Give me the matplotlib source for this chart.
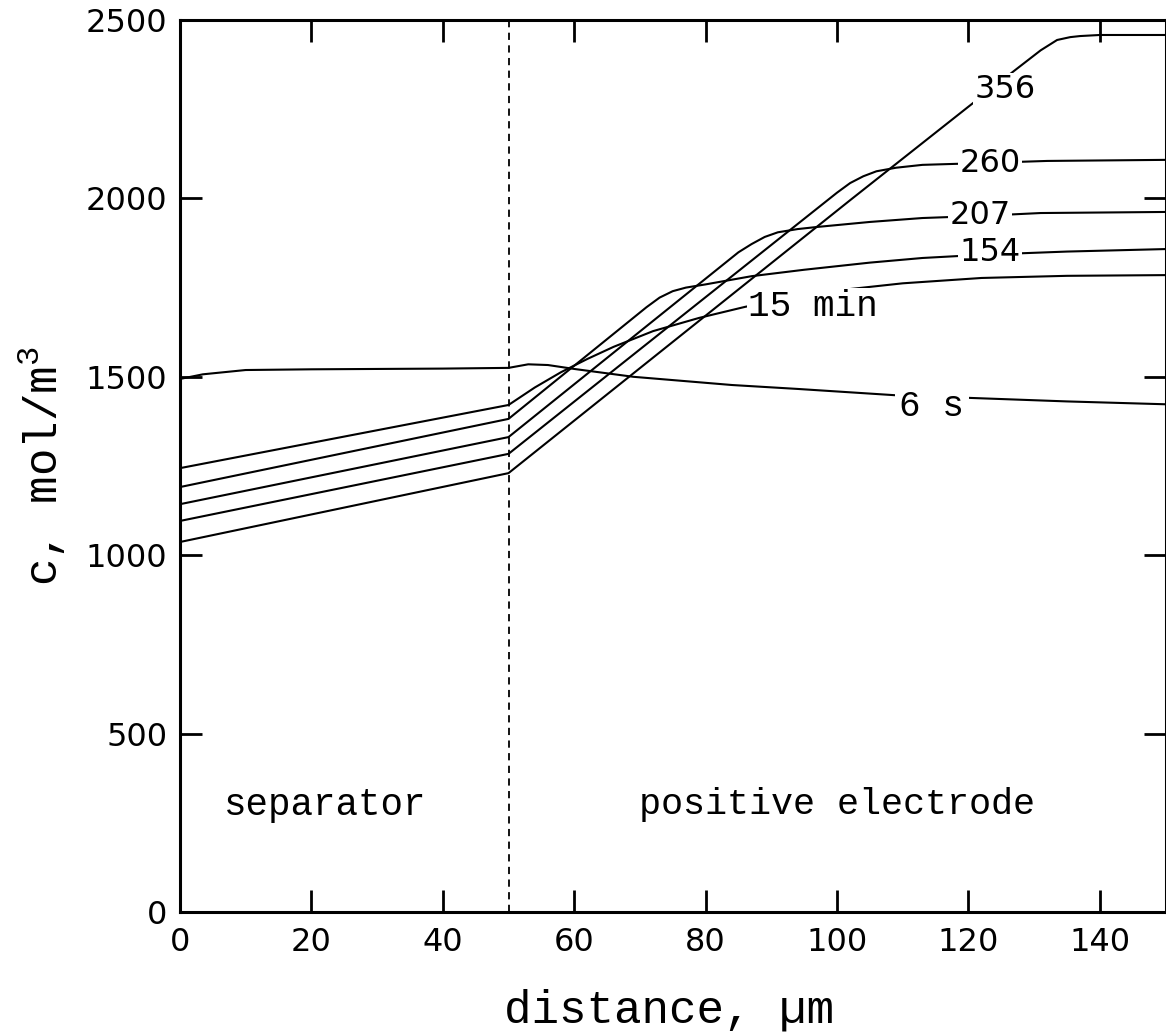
import numpy as np
import matplotlib
matplotlib.use("Agg")
import matplotlib.pyplot as plt

plt.rcParams['font.family'] = ['DejaVu Sans']
plt.rcParams['mathtext.fontset'] = 'custom'
plt.rcParams['mathtext.rm'] = 'Liberation Mono'

# concentration profiles (distance in um, c in mol/m3)
x_6s = [0, 3.5, 10, 20, 30, 40, 50, 53, 56, 60, 69, 84, 94, 110, 120, 135, 150]
c_6s = [1494, 1507, 1519, 1521, 1522, 1523, 1525, 1535, 1533, 1522, 1500, 1477, 1466, 1447, 1441, 1431, 1423]

x_15 = [0, 50, 54, 58, 62, 66, 72, 79, 86, 94, 102, 110, 122, 135, 150]
c_15 = [1244, 1421, 1470, 1513, 1550, 1584, 1628, 1665, 1696, 1725, 1746, 1762, 1777, 1783, 1785]

x_154 = [0, 50, 71, 73, 75, 77, 80, 87, 95, 105, 113, 122, 135, 150]
c_154 = [1191, 1382, 1695, 1722, 1740, 1750, 1759, 1782, 1800, 1820, 1833, 1842, 1851, 1858]

x_207 = [0, 50, 85, 87, 89, 91, 94, 97, 105, 113, 122, 131, 150]
c_207 = [1143, 1331, 1849, 1872, 1892, 1905, 1914, 1920, 1934, 1945, 1951, 1959, 1962]

x_260 = [0, 50, 100, 102, 104, 106, 109, 113, 122, 132, 150]
c_260 = [1096, 1284, 2016, 2043, 2062, 2076, 2086, 2094, 2099, 2105, 2108]

x_356 = [0, 50, 102, 120, 127, 131, 133.5, 135.5, 137, 140, 150]
c_356 = [1037, 1230, 1995, 2257, 2358, 2415, 2444, 2452, 2455, 2458, 2458]

curves = [(x_6s, c_6s), (x_15, c_15), (x_154, c_154),
          (x_207, c_207), (x_260, c_260), (x_356, c_356)]

# curve labels: text, x, y
labels = [("356", 125.6, 2304), ("260", 123.3, 2099), ("207", 121.8, 1951),
          ("154", 123.3, 1847)]

xticks = [0, 20, 40, 60, 80, 100, 120, 140]
yticks = [0, 500, 1000, 1500, 2000, 2500]

fig = plt.figure(figsize=(11.66, 10.33), dpi=100)
ax = fig.add_axes([180/1166, 121/1033, 985.5/1166, 892/1033])

for xs, cs in curves:
    ax.plot(xs, cs, color='k', lw=1.5, zorder=2)

ax.axvline(50, color='k', lw=1.3, ls=(0, (4, 3)), zorder=1)

white = dict(facecolor='white', edgecolor='none', pad=1)
for txt, xx, yy in labels:
    ax.text(xx, yy, txt, fontsize=23, ha='center', va='center', zorder=3, bbox=white)

mono = 'Liberation Mono'
ax.text(86.5, 1696, "15 min", fontsize=26, family=mono, ha='left', va='center',
        zorder=3, bbox=white)
ax.text(109.5, 1418, "6 s", fontsize=26, family=mono, ha='left', va='center', zorder=3,
        bbox=dict(facecolor='white', edgecolor='none', pad=3))

ax.text(22.1, 300, "separator", fontsize=27, family=mono, ha='center', va='center')
ax.text(100, 300, "positive electrode", fontsize=26.5, family=mono, ha='center', va='center')

ax.set_xlim(0, 150)
ax.set_ylim(0, 2500)
ax.set_xticks(xticks)
ax.set_yticks(yticks)
ax.tick_params(direction='in', length=16, width=2, top=True, right=True,
               labelsize=23)
ax.tick_params(axis='x', pad=11)
ax.tick_params(axis='y', pad=9)

for sp in ax.spines.values():
    sp.set_linewidth(2.2)

ax.set_xlabel("distance, \u00b5m", family=mono, fontsize=33, va='center')
ax.xaxis.set_label_coords(0.496, -0.110)
ax.set_ylabel("c, mol/m$^3$", family=mono, fontsize=33, va='center')
ax.yaxis.set_label_coords(-0.140, 0.50)

plt.savefig('out.png', dpi=100)
